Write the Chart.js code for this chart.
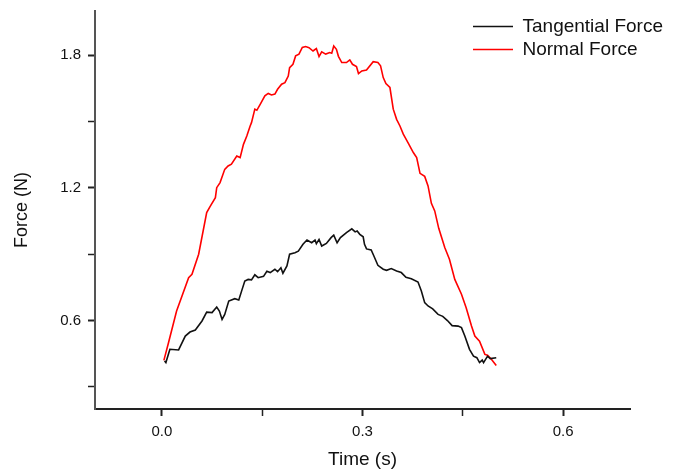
<!DOCTYPE html>
<html>
<head>
<meta charset="utf-8">
<title>Force vs Time</title>
<script src="https://cdn.jsdelivr.net/npm/chart.js@4.4.1/dist/chart.umd.min.js"></script>
<style>
  html, body { margin: 0; padding: 0; background: #fff; }
  #wrap { width: 686px; height: 473px; }
</style>
</head>
<body>
<div id="wrap"><canvas id="forceChart" width="686" height="473"></canvas></div>
<script>
// values (time in s, force in N)
const tangentialTime = [0.004, 0.006, 0.012, 0.025, 0.035, 0.042, 0.050, 0.060, 0.067, 0.075,
  0.082, 0.086, 0.090, 0.094, 0.100, 0.109, 0.115, 0.120, 0.124, 0.129,
  0.134, 0.139, 0.144, 0.152, 0.157, 0.162, 0.169, 0.173, 0.178, 0.181,
  0.187, 0.191, 0.199, 0.204, 0.211, 0.217, 0.224, 0.229, 0.231, 0.235,
  0.239, 0.246, 0.253, 0.257, 0.262, 0.267, 0.276, 0.284, 0.289, 0.292,
  0.296, 0.301, 0.303, 0.306, 0.313, 0.318, 0.323, 0.331, 0.336, 0.343,
  0.351, 0.358, 0.365, 0.373, 0.383, 0.388, 0.393, 0.398, 0.405, 0.413,
  0.420, 0.427, 0.434, 0.443, 0.448, 0.453, 0.460, 0.466, 0.471, 0.475,
  0.479, 0.481, 0.487, 0.491, 0.500];
const tangentialForce = [0.417, 0.410, 0.470, 0.467, 0.530, 0.548, 0.557, 0.598, 0.638, 0.636,
  0.661, 0.643, 0.605, 0.628, 0.688, 0.699, 0.693, 0.741, 0.779, 0.786,
  0.784, 0.807, 0.794, 0.800, 0.823, 0.817, 0.832, 0.821, 0.839, 0.814,
  0.847, 0.900, 0.907, 0.914, 0.945, 0.964, 0.952, 0.964, 0.948, 0.967,
  0.937, 0.949, 0.975, 0.986, 0.952, 0.975, 0.998, 1.015, 1.001, 1.005,
  0.990, 0.979, 0.945, 0.924, 0.919, 0.885, 0.850, 0.832, 0.827, 0.835,
  0.824, 0.817, 0.796, 0.789, 0.774, 0.734, 0.681, 0.666, 0.653, 0.628,
  0.619, 0.600, 0.577, 0.575, 0.568, 0.530, 0.470, 0.439, 0.432, 0.410,
  0.421, 0.410, 0.439, 0.428, 0.432];

const normalTime = [0.003, 0.010, 0.022, 0.040, 0.045, 0.055, 0.067, 0.072, 0.080, 0.082,
  0.087, 0.094, 0.099, 0.104, 0.112, 0.117, 0.122, 0.127, 0.132, 0.134,
  0.139, 0.142, 0.147, 0.154, 0.159, 0.164, 0.169, 0.173, 0.179, 0.184,
  0.189, 0.191, 0.196, 0.200, 0.205, 0.210, 0.215, 0.220, 0.226, 0.231,
  0.235, 0.239, 0.245, 0.251, 0.254, 0.257, 0.261, 0.264, 0.269, 0.276,
  0.281, 0.285, 0.291, 0.294, 0.299, 0.306, 0.316, 0.323, 0.327, 0.331,
  0.335, 0.341, 0.346, 0.351, 0.356, 0.361, 0.368, 0.376, 0.381, 0.386,
  0.393, 0.398, 0.403, 0.408, 0.414, 0.423, 0.430, 0.438, 0.448, 0.455,
  0.463, 0.468, 0.475, 0.483, 0.487, 0.493, 0.500];
const normalForce = [0.420, 0.501, 0.643, 0.794, 0.809, 0.900, 1.088, 1.115, 1.156, 1.201,
  1.224, 1.284, 1.299, 1.307, 1.344, 1.337, 1.397, 1.435, 1.480, 1.495,
  1.556, 1.551, 1.578, 1.616, 1.627, 1.620, 1.624, 1.646, 1.669, 1.676,
  1.706, 1.744, 1.759, 1.797, 1.805, 1.835, 1.839, 1.834, 1.819, 1.830,
  1.794, 1.815, 1.805, 1.812, 1.809, 1.842, 1.827, 1.795, 1.767, 1.767,
  1.779, 1.759, 1.749, 1.717, 1.729, 1.733, 1.771, 1.767, 1.752, 1.699,
  1.672, 1.654, 1.556, 1.510, 1.480, 1.443, 1.405, 1.360, 1.337, 1.266,
  1.252, 1.209, 1.130, 1.096, 1.017, 0.930, 0.877, 0.786, 0.719, 0.658,
  0.575, 0.530, 0.507, 0.447, 0.443, 0.424, 0.397];

// tick positions (major ones get a label, the others are minor ticks)
const xTickValues = [0.0, 0.15, 0.3, 0.45, 0.6];
const yTickValues = [0.3, 0.6, 0.9, 1.2, 1.5, 1.8];
const xLabelTicks = [0.0, 0.3, 0.6];
const yLabelTicks = [0.6, 1.2, 1.8];

function toPoints(xs, ys) {
  return xs.map((x, i) => ({ x: x, y: ys[i] }));
}
function isLabelled(v, list) {
  return list.some(t => Math.abs(t - v) < 1e-6);
}

// moves the built-in legend to the top right corner of the plot
const legendPlacer = {
  id: 'legendPlacer',
  afterLayout(chart) {
    const lg = chart.legend;
    const w = lg.width, h = lg.height;
    lg.left = 469;
    lg.right = lg.left + w;
    lg.top = 13;
    lg.bottom = lg.top + h;
  }
};

const ctx = document.getElementById('forceChart').getContext('2d');

const forceChart = new Chart(ctx, {
  type: 'line',
  data: {
    datasets: [{
      label: 'Tangential Force',
      data: toPoints(tangentialTime, tangentialForce),
      borderColor: '#111111',
      backgroundColor: '#111111',
      borderWidth: 1.6,
      pointRadius: 0,
      tension: 0
    }, {
      label: 'Normal Force',
      data: toPoints(normalTime, normalForce),
      borderColor: '#ff0000',
      backgroundColor: '#ff0000',
      borderWidth: 1.6,
      pointRadius: 0,
      tension: 0
    }]
  },
  options: {
    responsive: false,
    animation: false,
    layout: {
      padding: { left: 0, right: 56, top: 11, bottom: 0 }
    },
    scales: {
      x: {
        type: 'linear',
        min: -0.1,
        max: 0.7,
        afterFit: (scale) => {
          scale.height = 64;
          scale.paddingLeft = 0;
          scale.paddingRight = 0;
        },
        afterBuildTicks: (scale) => { scale.ticks = xTickValues.map(v => ({ value: v })); },
        border: { display: true, color: '#222', width: 2 },
        grid: {
          drawOnChartArea: false,
          drawTicks: true,
          tickLength: 7,
          tickColor: '#222',
          tickWidth: (c) => isLabelled(c.tick.value, xLabelTicks) ? 2 : 1.5
        },
        ticks: {
          autoSkip: false,
          maxRotation: 0,
          padding: 7,
          color: '#111',
          font: { family: 'Liberation Sans', size: 15 },
          callback: (v) => isLabelled(v, xLabelTicks) ? v.toFixed(1) : ''
        },
        title: {
          display: true,
          text: 'Time (s)',
          color: '#111',
          font: { family: 'Liberation Sans', size: 19 },
          padding: { top: 0, bottom: 2 }
        }
      },
      y: {
        type: 'linear',
        min: 0.2,
        max: 2.0,
        afterFit: (scale) => {
          scale.width = 95;
          scale.paddingTop = 0;
          scale.paddingBottom = 0;
        },
        afterBuildTicks: (scale) => { scale.ticks = yTickValues.map(v => ({ value: v })); },
        border: { display: true, color: '#555', width: 2 },
        grid: {
          drawOnChartArea: false,
          drawTicks: true,
          tickLength: 7,
          tickColor: '#222',
          tickWidth: (c) => isLabelled(c.tick.value, yLabelTicks) ? 2 : 1.5
        },
        ticks: {
          autoSkip: false,
          padding: 7,
          color: '#111',
          font: { family: 'Liberation Sans', size: 15 },
          callback: (v) => isLabelled(v, yLabelTicks) ? v.toFixed(1) : ''
        },
        title: {
          display: true,
          text: 'Force (N)',
          color: '#111',
          font: { family: 'Liberation Sans', size: 18 },
          padding: { top: 11, bottom: 0 }
        }
      }
    },
    plugins: {
      legend: {
        display: true,
        position: 'chartArea',
        align: 'start',
        labels: {
          usePointStyle: true,
          pointStyle: 'line',
          pointStyleWidth: 40,
          padding: 4,
          color: '#111',
          font: { family: 'Liberation Sans', size: 19 }
        }
      },
      tooltip: { enabled: false }
    }
  },
  plugins: [legendPlacer]
});
</script>
</body>
</html>
